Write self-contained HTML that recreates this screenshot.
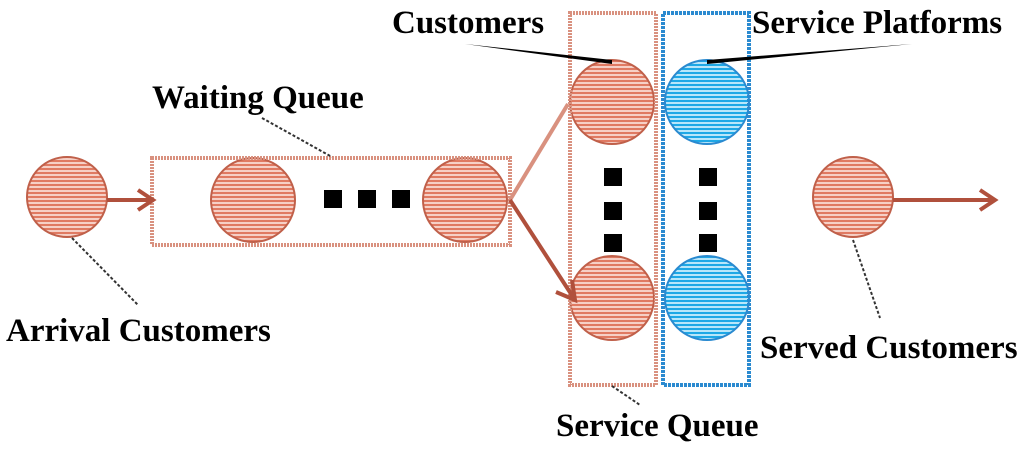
<!DOCTYPE html>
<html><head><style>
body{margin:0;background:#fff;width:1024px;height:448px;overflow:hidden}
svg text{font-family:"Liberation Serif",serif;font-weight:bold;font-size:33px;fill:#000}
</style></head><body>
<svg width="1024" height="448" viewBox="0 0 1024 448">
<defs>
<pattern id="pr" width="4" height="4" patternUnits="userSpaceOnUse"><rect width="4" height="4" fill="#f6d0c6"/><rect width="4" height="2" fill="#e07a62"/></pattern>
<pattern id="pb" width="4" height="4" patternUnits="userSpaceOnUse"><rect width="4" height="4" fill="#b8e6fa"/><rect width="4" height="2" fill="#1ea8e6"/></pattern>
</defs>
<g stroke="#c0604a" stroke-width="2" fill="url(#pr)">
<circle cx="67" cy="197" r="40"/>
<circle cx="253" cy="200" r="42"/>
<circle cx="465" cy="200" r="42"/>
<circle cx="612" cy="102" r="42"/>
<circle cx="612" cy="298" r="42"/>
<circle cx="853" cy="197" r="40"/>
</g>
<g stroke="#2a8ad0" stroke-width="2" fill="url(#pb)">
<circle cx="707" cy="102" r="42"/>
<circle cx="707" cy="298" r="42"/>
</g>
<rect x="152" y="158" width="358" height="87" fill="none" stroke="#d9917f" stroke-width="4" stroke-dasharray="2 1"/>
<rect x="570" y="13" width="86" height="372" fill="none" stroke="#d9917f" stroke-width="4" stroke-dasharray="2 1"/>
<rect x="663" y="13" width="86" height="372" fill="none" stroke="#2a8ad0" stroke-width="4" stroke-dasharray="3 1"/>
<g stroke="#b0503c" stroke-width="4" fill="none">
<line x1="107" y1="200" x2="153" y2="200"/><polyline points="138,190 153,200 138,210"/>
<line x1="893" y1="200" x2="995" y2="200"/><polyline points="980,190 995,200 980,210"/>
<line x1="510" y1="200" x2="568" y2="104" stroke="#d9917f"/>
<line x1="510" y1="200" x2="575" y2="300"/><polyline points="556,292 575,300 572,280"/>
</g>
<g fill="#000">
<rect x="324" y="190" width="18" height="18"/><rect x="358" y="190" width="18" height="18"/><rect x="392" y="190" width="18" height="18"/>
<rect x="604" y="168" width="18" height="18"/><rect x="604" y="202" width="18" height="18"/><rect x="604" y="234" width="18" height="18"/>
<rect x="699" y="168" width="18" height="18"/><rect x="699" y="202" width="18" height="18"/><rect x="699" y="234" width="18" height="18"/>
<polygon points="465,44 612,60 612,64"/>
<polygon points="912,44 707,60 707,64"/>
</g>
<g stroke="#333" stroke-width="2" stroke-dasharray="3 2">
<line x1="262" y1="118" x2="332" y2="157"/>
<line x1="72" y1="238" x2="138" y2="305"/>
<line x1="853" y1="240" x2="880" y2="318"/>
<line x1="612" y1="386" x2="640" y2="405"/>
</g>
<text x="392" y="33">Customers</text>
<text x="752" y="33">Service Platforms</text>
<text x="152" y="108">Waiting Queue</text>
<text x="6" y="341">Arrival Customers</text>
<text x="760" y="358">Served Customers</text>
<text x="556" y="436">Service Queue</text>
</svg>
</body></html>
